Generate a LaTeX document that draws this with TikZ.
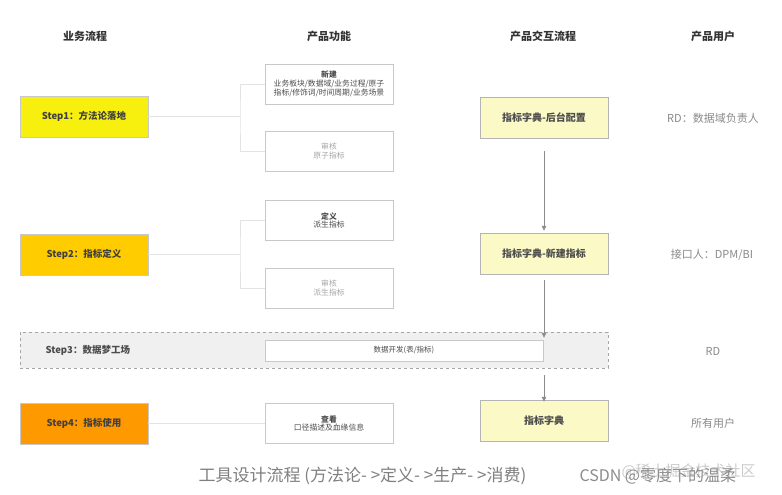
\documentclass[tikz,border=0pt]{standalone}
\usepackage{fontspec}
\setmainfont{Noto Sans CJK SC}
\usetikzlibrary{arrows.meta}
\definecolor{stepa}{HTML}{F7F00F}
\definecolor{stepb}{HTML}{FFCC00}
\definecolor{stepd}{HTML}{FF9900}
\definecolor{pale}{HTML}{FBFAC6}
\definecolor{linec}{HTML}{E3E3E3}
\definecolor{boxc}{HTML}{C8C8C8}
\definecolor{txtg}{HTML}{8A8A8A}
\tikzset{
  x=1pt,y=-1pt,
  hdr/.style={font=\fontsize{11}{13}\selectfont\bfseries, text=black!80},
  stepbox/.style={draw=boxc, minimum width=128pt, minimum height=41pt, inner sep=0pt, font=\fontsize{9.5}{11}\selectfont\bfseries, text=black!75},
  funcbox/.style={draw=boxc, line width=0.8pt, fill=white, minimum width=128pt, minimum height=40pt, inner sep=1pt, align=center, font=\fontsize{7.8}{8.8}\selectfont, text=black!70},
  dictbox/.style={draw=boxc!90!black, fill=pale, minimum width=128pt, minimum height=41pt, inner sep=0pt, font=\fontsize{10}{12}\selectfont\bfseries, text=black!70},
  conn/.style={draw=linec, line width=0.8pt},
  flow/.style={draw=black!45, line width=0.8pt, -{Triangle[length=5pt,width=4.5pt]}},
  user/.style={font=\fontsize{11}{13}\selectfont, text=txtg},
  capt/.style={font=\fontsize{17}{19}\selectfont, anchor=west},
}
\begin{document}
\begin{tikzpicture}
\useasboundingbox[fill=white] (0,0) rectangle (782,495);
% headers
\node[hdr] (h1) at (85,36) {业务流程};
\node[hdr] (h2) at (329,36) {产品功能};
\node[hdr] (h3) at (543,36) {产品交互流程};
\node[hdr] (h4) at (713,36) {产品用户};

% step3 band
\node[draw=black!35, dashed, fill=black!6, minimum width=588pt, minimum height=36pt, inner sep=0pt] (band) at (314,350) {};
\node[font=\fontsize{9.5}{11}\selectfont\bfseries, text=black!70, anchor=west] (s3) at (42,350) {Step3：数据梦工场};
\node[draw=boxc, fill=white, minimum width=278pt, minimum height=21pt, inner sep=0pt, font=\fontsize{7.5}{8}\selectfont, text=black!70] (dev) at (404,350.5) {数据开发(表/指标)};

% steps
\node[stepbox, fill=stepa] (s1) at (84,116.5) {Step1：方法论落地};
\node[stepbox, fill=stepb] (s2) at (84,254.5) {Step2：指标定义};
\node[stepbox, fill=stepd] (s4) at (84,423.5) {Step4：指标使用};

% function boxes
\node[funcbox] (f1) at (329,84) {{\bfseries 新建}\\业务板块/数据域/业务过程/原子\\指标/修饰词/时间周期/业务场景};
\node[funcbox, text=black!35] (f2) at (329,151) {审核\\原子指标};
\node[funcbox] (f3) at (329,220.5) {{\bfseries 定义}\\派生指标};
\node[funcbox, text=black!35] (f4) at (329,288) {审核\\派生指标};
\node[funcbox] (f5) at (329,423.5) {{\bfseries 查看}\\口径描述及血缘信息};

% connectors
\coordinate (j1) at (240,116.5);
\coordinate (j2) at (240,254.5);
\draw[conn] (s1.east) -- (j1);
\draw[conn] (f1.west) -| (j1) |- (f2.west);
\draw[conn] (s2.east) -- (j2);
\draw[conn] (f3.west) -| (j2) |- (f4.west);
\draw[conn] (s4.east) -- (f5.west);

% dictionary boxes
\node[dictbox] (d1) at (544,117.5) {指标字典-后台配置};
\node[dictbox] (d2) at (544,253.5) {指标字典-新建指标};
\node[dictbox] (d3) at (544,420.5) {指标字典};

\draw[flow] ([yshift=-13pt]d1.south) -- ([yshift=2pt]d2.north);
\draw[flow] ([yshift=-6pt]d2.south) -- ([yshift=-6pt]band.north -| d2.south);
\draw[flow] ([yshift=-7pt]band.south -| d3.north) -- ([yshift=-2pt]d3.north);

% users
\node[user] (u1) at (713,118) {RD：数据域负责人};
\node[user] (u2) at (712,255) {接口人：DPM/BI};
\node[user] (u3) at (713,351) {RD};
\node[user] (u4) at (713,423) {所有用户};

% caption and watermark
\node[capt, text=black!50] (cap) at (195,476) {工具设计流程 (方法论- >定义- >生产- >消费)};
\node[capt, text=black!45, font=\fontsize{16}{18}\selectfont] (wm) at (576,476) {CSDN @零度下的温柔};
\node[capt, text=black!40, opacity=0.5, font=\fontsize{15}{17}\selectfont] (wm2) at (618,471) {@稀土掘金技术社区};
\end{tikzpicture}
\end{document}
